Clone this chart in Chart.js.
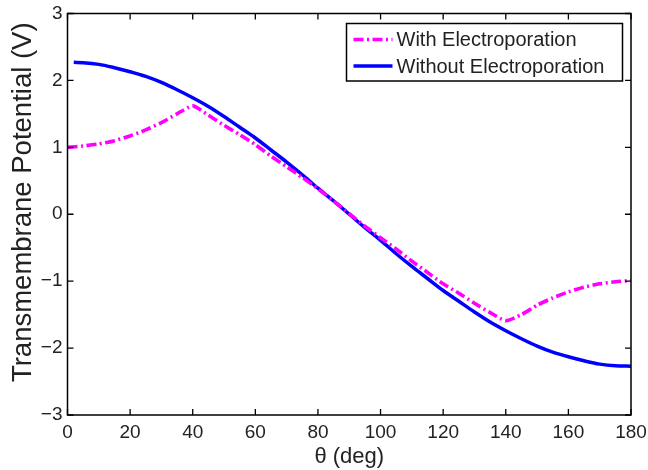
<!DOCTYPE html>
<html>
<head>
<meta charset="utf-8">
<script src="https://cdn.jsdelivr.net/npm/chart.js@4.4.1/dist/chart.umd.min.js"></script>
<style>
  body { margin: 0; background: #fff; }
  #wrap { width: 648px; height: 470px; }
</style>
</head>
<body>
<div id="wrap"><canvas id="tmChart"></canvas></div>
<script>
const thetaWith = [0, 5, 10, 15, 20, 25, 30, 35, 40, 45, 50, 55, 60, 65, 70, 75, 80, 85, 90,
                   95, 100, 105, 110, 115, 120, 125, 130, 135, 140, 145, 150, 155, 160, 165, 170, 175, 180];
const vWith = [1.00, 1.02, 1.05, 1.10, 1.17, 1.26, 1.37, 1.50, 1.62, 1.48, 1.33, 1.19, 1.04, 0.87, 0.71, 0.55, 0.38, 0.20, 0.01,
               -0.18, -0.35, -0.52, -0.70, -0.87, -1.04, -1.18, -1.33, -1.47, -1.59, -1.50, -1.36, -1.25, -1.16, -1.09, -1.04, -1.01, -0.99];

const thetaWithout = [2, 5, 10, 15, 20, 25, 30, 35, 40, 45, 50, 55, 60, 65, 70, 75, 80, 85, 90,
                      95, 100, 105, 110, 115, 120, 125, 130, 135, 140, 145, 150, 155, 160, 165, 170, 175, 180];
const vWithout = [2.27, 2.265, 2.24, 2.19, 2.13, 2.06, 1.97, 1.86, 1.74, 1.61, 1.46, 1.30, 1.14, 0.96, 0.78, 0.59, 0.39, 0.20, 0.00,
                  -0.20, -0.39, -0.59, -0.78, -0.96, -1.14, -1.30, -1.46, -1.61, -1.74, -1.86, -1.97, -2.06, -2.13, -2.19, -2.24, -2.265, -2.27];

const xTicks = [0, 20, 40, 60, 80, 100, 120, 140, 160, 180];
const yTicks = [-3, -2, -1, 0, 1, 2, 3];
const yTitle = 'Transmembrane Potential (V)';

const FONT = '"Liberation Sans", Arial, Helvetica, sans-serif';
const TXT = '#222';

const toPoints = (xs, ys) => xs.map((x, i) => ({ x: x, y: ys[i] }));

// box, inward ticks (all four sides), y title and the legend, matlab style
const matlabFrame = {
  id: 'matlabFrame',
  afterDraw(chart) {
    const ctx = chart.ctx;
    const a = chart.chartArea;
    const xs = chart.scales.x, ys = chart.scales.y;
    const tl = 6;
    ctx.save();
    ctx.strokeStyle = '#000';
    ctx.lineWidth = 1.3;
    ctx.beginPath();
    xTicks.forEach(t => {
      const px = xs.getPixelForValue(t);
      ctx.moveTo(px, a.bottom); ctx.lineTo(px, a.bottom - tl);
      ctx.moveTo(px, a.top); ctx.lineTo(px, a.top + tl);
    });
    yTicks.forEach(t => {
      const py = ys.getPixelForValue(t);
      ctx.moveTo(a.left, py); ctx.lineTo(a.left + tl, py);
      ctx.moveTo(a.right, py); ctx.lineTo(a.right - tl, py);
    });
    ctx.stroke();
    ctx.lineWidth = 1.5;
    ctx.strokeRect(a.left, a.top, a.right - a.left, a.bottom - a.top);

    // y title sits a bit above the axis middle in the original
    ctx.save();
    ctx.translate(30.5, (a.top + a.bottom) / 2 - 12);
    ctx.rotate(-Math.PI / 2);
    ctx.font = '27.5px ' + FONT;
    ctx.fillStyle = TXT;
    ctx.textAlign = 'center';
    ctx.textBaseline = 'alphabetic';
    ctx.fillText(yTitle, 0, 0);
    ctx.restore();

    // legend
    const w = 276, h = 57.5;
    const lx = a.right - 8.5 - w, ly = a.top + 10;
    ctx.fillStyle = '#fff';
    ctx.fillRect(lx, ly, w, h);
    ctx.lineWidth = 1.5;
    ctx.strokeStyle = '#000';
    ctx.strokeRect(lx, ly, w, h);
    ctx.font = '20px ' + FONT;
    ctx.textBaseline = 'middle';
    const rows = [ly + 16, ly + 42.5];
    chart.data.datasets.forEach((ds, i) => {
      ctx.strokeStyle = ds.borderColor;
      ctx.lineWidth = ds.borderWidth;
      ctx.setLineDash(ds.borderDash || []);
      ctx.beginPath();
      ctx.moveTo(lx + 7, rows[i]);
      ctx.lineTo(lx + 46, rows[i]);
      ctx.stroke();
      ctx.setLineDash([]);
      ctx.fillStyle = TXT;
      ctx.fillText(ds.label, lx + 50, rows[i] + 1);
    });
    ctx.restore();
  }
};

new Chart(document.getElementById('tmChart'), {
  type: 'line',
  data: {
    datasets: [{
      label: 'With Electroporation',
      data: toPoints(thetaWith, vWith),
      borderColor: '#ff00ff',
      borderWidth: 3.6,
      borderDash: [10, 3.5, 2, 3.5],
      borderCapStyle: 'butt',
      pointRadius: 0,
      tension: 0.2,
      fill: false
    }, {
      label: 'Without Electroporation',
      data: toPoints(thetaWithout, vWithout),
      borderColor: '#0000ff',
      borderWidth: 3.5,
      pointRadius: 0,
      cubicInterpolationMode: 'monotone',
      fill: false
    }]
  },
  options: {
    responsive: true,
    maintainAspectRatio: false,
    animation: false,
    layout: { padding: { top: 13.5, right: 17, left: 0, bottom: 0 } },
    plugins: {
      legend: { display: false },
      tooltip: { enabled: false }
    },
    scales: {
      x: {
        type: 'linear',
        min: 0,
        max: 180,
        afterBuildTicks: s => { s.ticks = xTicks.map(v => ({ value: v })); },
        afterFit: s => { s.height = 55; s.paddingLeft = 0; s.paddingRight = 0; },
        grid: { display: false, drawTicks: false, tickLength: 0 },
        border: { display: false },
        ticks: { font: { size: 19, family: FONT }, color: TXT, padding: 6, maxRotation: 0 },
        title: {
          display: true,
          text: 'θ (deg)',
          font: { size: 22, family: FONT },
          color: TXT,
          padding: { top: 0, bottom: 0 }
        }
      },
      y: {
        min: -3,
        max: 3,
        afterBuildTicks: s => { s.ticks = yTicks.map(v => ({ value: v })); },
        afterFit: s => { s.width = 67.5; s.paddingTop = 0; s.paddingBottom = 0; },
        grid: { display: false, drawTicks: false, tickLength: 0 },
        border: { display: false },
        ticks: {
          font: { size: 19, family: FONT },
          color: TXT,
          padding: 5,
          callback: v => String(v).replace('-', '\u2212')
        },
        title: { display: false }
      }
    }
  },
  plugins: [matlabFrame]
});
</script>
</body>
</html>
